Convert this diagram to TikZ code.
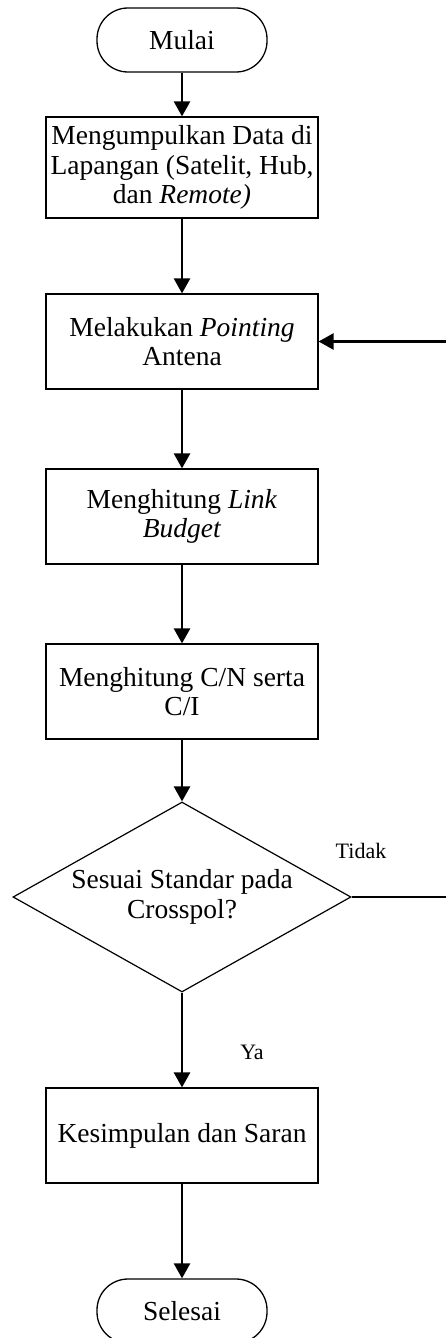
\documentclass[tikz,border=0pt]{standalone}
\usepackage{fontspec}
\setmainfont{Liberation Serif}
\usetikzlibrary{shapes.geometric,arrows.meta}
\begin{document}
\begin{tikzpicture}[x=1pt,y=-1pt,
  txt/.style={font=\fontsize{27.5}{29.5}\selectfont},
  proc/.style={txt, draw, line width=1.2pt, minimum width=272pt, minimum height=95pt, align=center, inner sep=0pt},
  term/.style={txt, draw, line width=1.3pt, rounded corners=31pt, minimum width=170pt, minimum height=64pt, inner sep=0pt},
  dec/.style={txt, draw, diamond, aspect=1.78, line width=1.2pt, minimum width=338pt, minimum height=190pt, align=center, inner sep=0pt},
  conn/.style={line width=2.6pt, -{Triangle[length=15pt,width=16pt]}},
  lbl/.style={font=\fontsize{22}{24}\selectfont}]
\useasboundingbox (0,0) rectangle (446,1338);
\clip (0,0) rectangle (446,1338);
\fill[white] (0,0) rectangle (446,1338);
\node[term] (start) at (182,40) {Mulai};
\node[proc, minimum height=101pt] (b1) at (182,167.5) {Mengumpulkan Data di\\Lapangan (Satelit, Hub,\\dan \textit{Remote)}};
\node[proc] (b2) at (182,341.5) {Melakukan \textit{Pointing}\\Antena};
\node[proc] (b3) at (182,516.5) {Menghitung \textit{Link}\\\textit{Budget}};
\node[proc] (b4) at (182,691.5) {Menghitung C/N serta\\C/I};
\node[dec] (dec) at (182,897) {Sesuai Standar pada\\Crosspol?};
\node[proc] (b5) at (182,1135.5) {Kesimpulan dan Saran};
\node[term] (end) at (182,1311) {Selesai};
\coordinate (fb) at (452,897);
\draw[conn] (start) -- (b1);
\draw[conn] (b1) -- (b2);
\draw[conn] (b2) -- (b3);
\draw[conn] (b3) -- (b4);
\draw[conn] (b4) -- (dec);
\draw[conn] (dec) -- (b5);
\draw[conn] (b5) -- (end);
\draw[conn] (dec.east) -- (fb) |- (b2.east);
\node[lbl] (tidak) at (361,851) {Tidak};
\node[lbl] (ya) at (252,1052) {Ya};
\end{tikzpicture}
\end{document}
